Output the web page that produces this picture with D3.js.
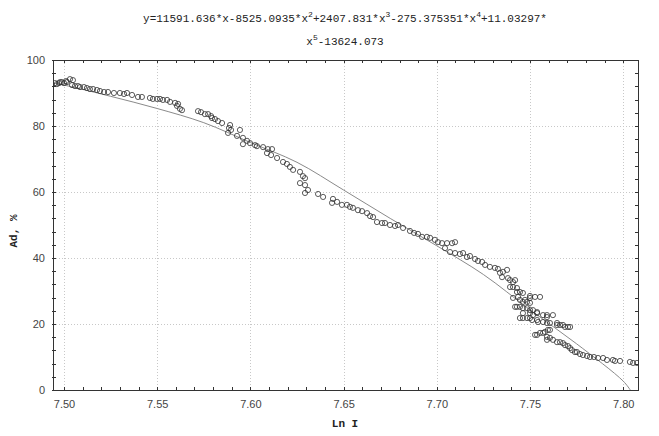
<!DOCTYPE html>
<html><head><meta charset="utf-8">
<script src="https://cdn.jsdelivr.net/npm/d3@7"></script>
<style>body{margin:0;background:#fff}</style></head>
<body><svg id="c" width="659" height="436"></svg>
<script>
// Observed points: Ln I (x) and Ad, % (y)
const lnI = [7.4952,7.4962,7.4973,7.4979,7.4989,7.5000,7.5011,7.5016,7.5032,7.5048,7.5043,7.5059,7.5075,7.5086,7.5107,7.5123,7.5139,7.5156,7.5177,7.5193,7.5215,7.5236,7.5268,7.5300,7.5322,7.5338,7.5365,7.5397,7.5418,7.5461,7.5477,7.5499,7.5515,7.5531,7.5553,7.5569,7.5596,7.5606,7.5612,7.5622,7.5633,7.5719,7.5735,7.5756,7.5773,7.5789,7.5794,7.5810,7.5826,7.5848,7.5891,7.5885,7.5896,7.5880,7.5944,7.5928,7.5960,7.5982,7.5960,7.5998,7.6025,7.6035,7.6068,7.6094,7.6116,7.6089,7.6111,7.6143,7.6175,7.6196,7.6212,7.6229,7.6266,7.6282,7.6293,7.6266,7.6293,7.6309,7.6293,7.6363,7.6390,7.6443,7.6465,7.6438,7.6491,7.6518,7.6534,7.6550,7.6577,7.6599,7.6626,7.6642,7.6658,7.6679,7.6706,7.6722,7.6749,7.6776,7.6792,7.6819,7.6856,7.6878,7.6899,7.6921,7.6947,7.6964,7.6990,7.7006,7.7028,7.7055,7.7082,7.7098,7.7044,7.7071,7.7098,7.7124,7.7141,7.7162,7.7178,7.7205,7.7221,7.7243,7.7259,7.7285,7.7312,7.7328,7.7339,7.7355,7.7377,7.7350,7.7382,7.7393,7.7409,7.7420,7.7393,7.7409,7.7430,7.7446,7.7430,7.7436,7.7462,7.7473,7.7500,7.7500,7.7527,7.7554,7.7409,7.7446,7.7462,7.7484,7.7500,7.7420,7.7430,7.7446,7.7462,7.7484,7.7500,7.7516,7.7538,7.7462,7.7500,7.7516,7.7538,7.7570,7.7591,7.7623,7.7446,7.7462,7.7484,7.7500,7.7511,7.7538,7.7543,7.7591,7.7570,7.7591,7.7607,7.7645,7.7645,7.7661,7.7677,7.7688,7.7704,7.7715,7.7527,7.7538,7.7554,7.7570,7.7580,7.7596,7.7607,7.7591,7.7591,7.7607,7.7623,7.7645,7.7661,7.7677,7.7688,7.7704,7.7715,7.7725,7.7741,7.7752,7.7768,7.7784,7.7806,7.7822,7.7843,7.7865,7.7892,7.7913,7.7945,7.7956,7.7983,7.8036,7.8053,7.8074];
const ad = [93.0,92.7,93.0,93.3,93.3,93.0,93.6,93.3,94.2,93.9,92.4,92.1,92.1,91.8,91.8,91.5,91.2,91.2,90.9,90.6,90.3,90.3,90.0,90.0,89.7,90.0,89.4,88.8,88.8,88.5,88.2,88.2,88.2,87.9,87.9,87.3,87.0,86.1,86.7,85.2,84.8,84.5,84.2,83.6,83.6,83.0,82.4,82.1,81.5,80.9,80.3,79.4,78.8,77.9,78.8,77.0,76.4,75.5,74.5,74.8,74.2,73.9,73.6,73.0,73.0,71.8,71.2,70.3,69.1,68.5,67.6,66.7,66.1,64.8,64.2,62.7,62.1,60.6,59.7,59.4,58.5,57.9,57.0,56.7,56.1,56.1,55.5,55.2,54.5,54.2,53.6,52.7,52.4,50.9,50.6,50.6,50.0,49.7,50.0,49.1,48.2,47.6,47.3,46.4,46.4,46.1,45.5,44.8,44.5,44.5,44.5,44.8,43.0,41.8,41.5,41.2,41.5,40.3,40.6,39.7,39.1,38.8,37.9,37.3,37.0,36.7,35.5,35.8,36.4,34.2,33.9,33.3,32.7,33.3,31.2,31.2,30.9,29.7,29.7,28.2,29.4,27.3,28.5,27.9,28.2,28.2,27.9,27.3,26.7,26.7,26.4,25.2,25.2,25.2,24.8,24.8,24.2,24.2,23.6,23.3,23.3,22.7,23.3,22.7,22.7,22.7,21.8,21.8,21.8,21.8,21.2,21.2,20.6,22.1,20.6,20.3,20.3,20.3,19.7,19.7,19.7,19.1,19.1,19.1,16.7,16.7,17.3,17.3,17.6,18.2,18.2,16.1,15.2,15.8,15.2,14.5,14.5,14.2,13.6,13.3,12.7,12.1,11.5,11.5,10.9,10.6,10.3,10.0,10.0,9.7,9.7,9.1,9.1,8.8,8.8,8.5,8.2,8.2];
// Fitted curve
const fitLnI = [7.4941,7.500,7.525,7.550,7.575,7.600,7.625,7.650,7.675,7.700,7.725,7.750,7.775,7.800,7.8038];
const fitAd  = [93.0,92.4,89.0,85.3,81.0,75.0,69.0,60.6,52.0,43.7,35.0,24.3,14.0,2.7,0.0];
const xTickValues = [7.50,7.55,7.60,7.65,7.70,7.75,7.80];
const yTickValues = [0,20,40,60,80,100];
const xMinorTicks = d3.range(7.50, 7.8051, 0.01);
const yMinorTicks = d3.range(0, 100.1, 4);
const titleLine1 = [["y=11591.636*x-8525.0935*x",0],["2",1],["+2407.831*x",0],["3",1],["-275.375351*x",0],["4",1],["+11.03297*",0]];
const titleLine2 = [["x",0],["5",1],["-13624.073",0]];
const xTitle = "Ln I";
const yTitle = "Ad, %";

const svg = d3.select("#c");
const L = 53, R = 638, T = 60, B = 390;
const x = d3.scaleLinear().domain([7.4941, 7.80794]).range([L, R]);
const y = d3.scaleLinear().domain([0, 100]).range([B, T]);

// grid
const grid = svg.append("g").attr("stroke", "#c8c8c8").attr("stroke-width", 1).attr("stroke-dasharray", "1,2");
grid.selectAll("line.gx").data(xTickValues).join("line")
  .attr("x1", d => Math.round(x(d)) + 0.5).attr("x2", d => Math.round(x(d)) + 0.5).attr("y1", T).attr("y2", B);
grid.selectAll("line.gy").data(yTickValues.filter(v => v > 0 && v < 100)).join("line")
  .attr("class","gy")
  .attr("y1", d => Math.round(y(d)) + 0.5).attr("y2", d => Math.round(y(d)) + 0.5).attr("x1", L).attr("x2", R);

// fit curve
const line = d3.line().x((d, i) => x(fitLnI[i])).y((d, i) => y(fitAd[i])).curve(d3.curveCatmullRom);
const clip = svg.append("clipPath").attr("id", "pc").append("rect").attr("x", L).attr("y", T).attr("width", R - L).attr("height", B - T);
svg.append("path").datum(fitAd).attr("d", line).attr("fill", "none")
  .attr("stroke", "#8a8a8a").attr("stroke-width", 1).attr("clip-path", "url(#pc)");

// points
svg.append("g").attr("clip-path", "url(#pc)").selectAll("circle").data(ad).join("circle")
  .attr("cx", (d, i) => x(lnI[i])).attr("cy", d => y(d)).attr("r", 2.6)
  .attr("fill", "none").attr("stroke", "#333").attr("stroke-width", 0.8);

// axes
const axB = svg.append("g").attr("transform", `translate(0,${B})`)
  .call(d3.axisBottom(x).tickValues(xTickValues).tickFormat(d3.format(".2f")).tickSize(0).tickPadding(8));
const axL = svg.append("g").attr("transform", `translate(${L},0)`)
  .call(d3.axisLeft(y).tickValues(yTickValues).tickFormat(d3.format("d")).tickSize(0).tickPadding(8));
[axB, axL].forEach(a => {
  a.select(".domain").remove();
  a.selectAll("text").attr("font-family", "Liberation Sans, Arial, sans-serif").attr("font-size", 11).attr("fill", "#444");
});
axB.selectAll("text").attr("dy", "0.9em");

// frame
svg.append("rect").attr("x", L + 0.5).attr("y", T + 0.5).attr("width", R - L).attr("height", B - T)
  .attr("fill", "none").attr("stroke", "#333").attr("stroke-width", 1);

// minor + major ticks on all sides (inward)
const tk = svg.append("g").attr("stroke", "#333").attr("stroke-width", 1);
tk.selectAll("line.bx").data(xMinorTicks).join("line").attr("class","bx")
  .attr("x1", d => Math.round(x(d)) + 0.5).attr("x2", d => Math.round(x(d)) + 0.5).attr("y1", B - 3).attr("y2", B + 1);
tk.selectAll("line.tx").data(xMinorTicks).join("line").attr("class","tx")
  .attr("x1", d => Math.round(x(d)) + 0.5).attr("x2", d => Math.round(x(d)) + 0.5).attr("y1", T).attr("y2", T + 3);
tk.selectAll("line.ly").data(yMinorTicks).join("line").attr("class","ly")
  .attr("y1", d => Math.round(y(d)) + 0.5).attr("y2", d => Math.round(y(d)) + 0.5).attr("x1", L - 1).attr("x2", L + 3);
tk.selectAll("line.ry").data(yMinorTicks).join("line").attr("class","ry")
  .attr("y1", d => Math.round(y(d)) + 0.5).attr("y2", d => Math.round(y(d)) + 0.5).attr("x1", R - 3).attr("x2", R + 1);

// title
function drawTitle(parts, yy) {
  const t = svg.append("text").attr("x", 345).attr("y", yy).attr("text-anchor", "middle")
    .attr("font-family", "Liberation Mono, Courier New, monospace").attr("font-size", 11).attr("fill", "#222");
  let up = false;
  parts.forEach(([s, sup]) => {
    const ts = t.append("tspan").text(s);
    if (sup) { ts.attr("dy", -5).attr("font-size", 8); up = true; }
    else if (up) { ts.attr("dy", 5); up = false; }
  });
}
drawTitle(titleLine1, 22);
drawTitle(titleLine2, 45);

// axis titles
svg.append("text").attr("x", 345).attr("y", 427).attr("text-anchor", "middle")
  .attr("font-family", "Liberation Mono, Courier New, monospace").attr("font-size", 11).attr("font-weight", "bold").attr("fill", "#222").text(xTitle);
svg.append("text").attr("transform", "translate(17,231) rotate(-90)").attr("text-anchor", "middle")
  .attr("font-family", "Liberation Mono, Courier New, monospace").attr("font-size", 11).attr("font-weight", "bold").attr("fill", "#222").text(yTitle);
</script></body></html>
